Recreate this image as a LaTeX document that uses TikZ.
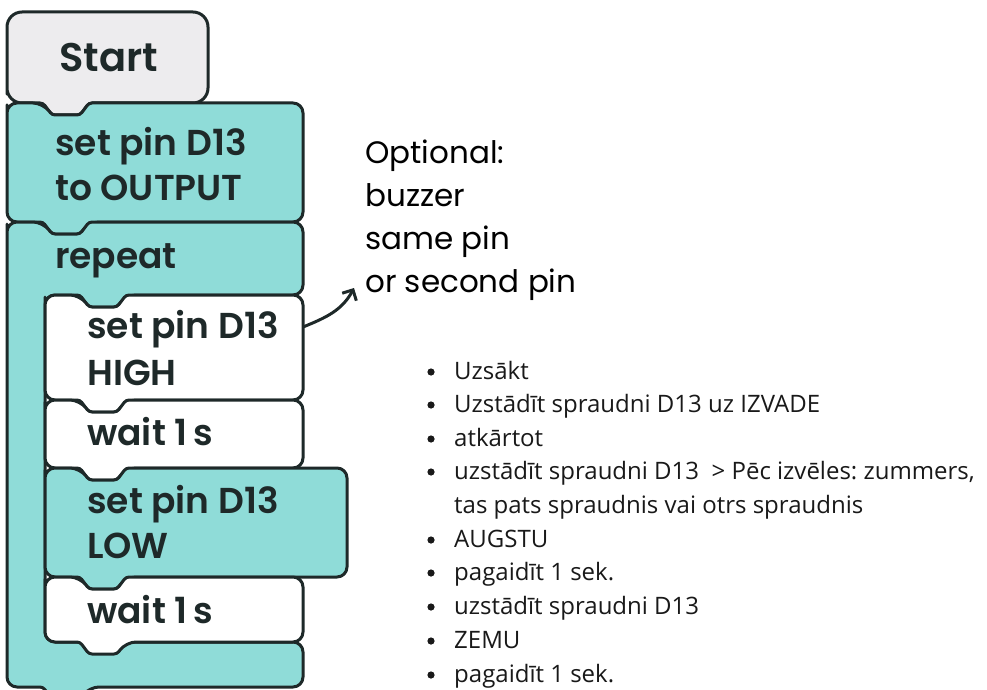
\documentclass[tikz,border=0pt]{standalone}
\usepackage{fontspec}
\setmainfont{Open Sans}
\newfontfamily\blockfont{Poppins SemiBold}
\newfontfamily\notefont{Poppins}
\usetikzlibrary{arrows.meta}
\frenchspacing

\definecolor{blockline}{HTML}{1E2929}
\definecolor{tealblock}{HTML}{8FDCD8}
\definecolor{hatblock}{HTML}{EDECEE}

% one stackable block: x1, y1 (top), x2, y2 (bottom), x of notch
\newcommand\blk[5]{(#1,#2+12) [rounded corners=10pt] -- (#1,#2) -- (#5,#2)
  [rounded corners=3pt] -- (#5+9,#2+12) -- (#5+37,#2+12) -- (#5+46,#2)
  [rounded corners=10pt] -- (#3,#2) -- (#3,#4) -- (#5+46,#4)
  [rounded corners=3pt] -- (#5+37,#4+12) -- (#5+9,#4+12) -- (#5,#4)
  [rounded corners=10pt] -- (#1,#4) -- cycle}

\begin{document}
\begin{tikzpicture}[x=1pt,y=-1pt,
    every node/.style={inner sep=0pt,anchor=base west},
    block/.style={draw=blockline,line width=3pt,line join=round},
    blocktext/.style={font=\blockfont\fontsize{36}{42}\selectfont,text=blockline},
    notetext/.style={font=\notefont\fontsize{31}{36}\selectfont,text=black},
    listtext/.style={font=\fontsize{24}{28}\selectfont,text=black!90}]
  \clip (0,0) rectangle (987,690);
  \fill[white] (0,0) rectangle (987,690);

  % hat block
  \draw[block,fill=hatblock,rounded corners=15pt] (7,103) -- (7,12) -- (208,12) -- (208,103)
    [rounded corners=3pt] -- (89,103) -- (80,115) -- (52,115) -- (43,103)
    [rounded corners=15pt] -- (7,103) -- cycle;
  \draw[block,fill=tealblock] \blk{7}{103}{303}{222}{43};

  % repeat (C shape)
  \draw[block,fill=tealblock] (7,234) [rounded corners=10pt] -- (7,222) -- (43,222)
    [rounded corners=3pt] -- (52,234) -- (80,234) -- (89,222)
    [rounded corners=10pt] -- (303,222) -- (303,295) -- (126,295)
    [rounded corners=3pt] -- (117,307) -- (89,307) -- (80,295)
    [rounded corners=10pt] -- (45,295) -- (45,642) -- (303,642) -- (303,687) -- (89,687)
    [rounded corners=3pt] -- (80,699) -- (52,699) -- (43,687)
    [rounded corners=10pt] -- (7,687) -- cycle;

  % loop body
  \draw[block,fill=white] \blk{45}{295}{303}{400}{80};
  \draw[block,fill=white] \blk{45}{400}{303}{468}{80};
  \draw[block,fill=tealblock] \blk{45}{468}{347}{577}{80};
  \draw[block,fill=white] \blk{45}{577}{303}{642}{80};

  \node[blocktext,font=\blockfont\fontsize{40}{46}\selectfont] (start) at (59,72) {Start};
  \node[blocktext] (setout1) at (55,155) {set pin D13};
  \node[blocktext] (setout2) at (55,200) {to OUTPUT};
  \node[blocktext] (repeat) at (55,268) {repeat};
  \node[blocktext] (high1) at (87,338) {set pin D13};
  \node[blocktext] (high2) at (87,385) {HIGH};
  \node[blocktext] (waitA) at (87,445) {wait 1\,s};
  \node[blocktext] (low1) at (87,513) {set pin D13};
  \node[blocktext] (low2) at (87,558) {LOW};
  \node[blocktext] (waitB) at (87,623) {wait 1\,s};

  % side note
  \node[notetext] (opt1) at (365,163) {Optional:};
  \node[notetext] (opt2) at (365,206) {buzzer};
  \node[notetext] (opt3) at (365,249) {same pin};
  \node[notetext] (opt4) at (365,292) {or second pin};
  \coordinate (highR) at (303,327);
  \coordinate (optTip) at (354,288);
  \draw[line width=3pt,blockline,-{Straight Barb[length=8pt,width=16pt]}]
    (highR) to[out=22,in=-118] (optTip);

  % translated list
  \foreach \y/\t in {379/Uzsākt, 412/Uzstādīt spraudni D13 uz IZVADE, 446/atkārtot,
      479/uzstādīt spraudni D13~~> Pēc izvēles: zummers{,}, 547/AUGSTU,
      580/pagaidīt 1 sek., 614/uzstādīt spraudni D13, 648/ZEMU, 682/pagaidīt 1 sek.}{
    \fill[black!90] (431,\y-7) circle (3.6);
    \node[listtext] at (454,\y) {\t};
  }
  \node[listtext] (wrapline) at (454,513) {tas pats spraudnis vai otrs spraudnis};
\end{tikzpicture}
\end{document}
